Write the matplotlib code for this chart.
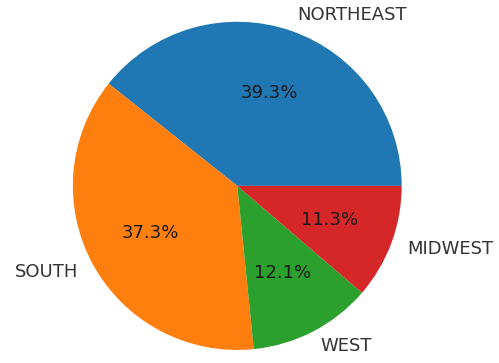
import matplotlib.pyplot as plt

regions = ['NORTHEAST', 'SOUTH', 'WEST', 'MIDWEST']
shares = [39.3, 37.3, 12.1, 11.3]
colors = ['#1f77b4', '#ff7f0e', '#2ca02c', '#d62728']

fig = plt.figure(figsize=(4.99, 3.63), dpi=100)
ax = fig.add_axes([0.146, 0.036, 0.659, 0.904])
wedges, texts, autotexts = ax.pie(shares, labels=regions, colors=colors,
                                  autopct='%1.1f%%', startangle=0,
                                  textprops={'fontsize': 13})
for t in texts:
    t.set_color('#333333')
for t in autotexts:
    t.set_color('#1a1a1a')
ax.set_aspect('auto')
ax.set_xlim(-1, 1)
ax.set_ylim(-1, 1)
fig.savefig('out.png')
